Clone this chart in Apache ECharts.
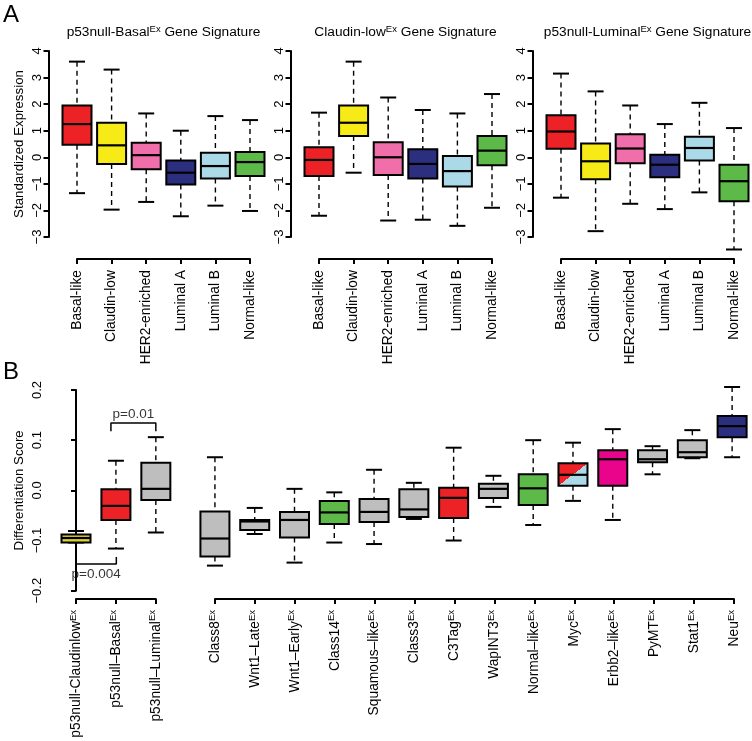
<!DOCTYPE html>
<html><head><meta charset="utf-8">
<script src="https://cdn.jsdelivr.net/npm/echarts@6/dist/echarts.min.js"></script>
<style>html,body{margin:0;padding:0;background:#fff}#c{width:752px;height:741px}</style>
</head><body><div id="c"></div>
<script>
// ---------- DATA ----------
const subtypes = ['Basal-like', 'Claudin-low', 'HER2-enriched', 'Luminal A', 'Luminal B', 'Normal-like'];
const subtypeColorKeys = ['red', 'yellow', 'pink', 'navy', 'lightblue', 'green'];
const signatureTitles = ['p53null-Basal', 'Claudin-low', 'p53null-Luminal'];
const yTicksA = [-3, -2, -1, 0, 1, 2, 3, 4];
// each box: [lower whisker, Q1, median, Q3, upper whisker]
const basalSignature = [
  [-1.35, 0.47, 1.25, 1.95, 3.60],
  [-1.97, -0.25, 0.45, 1.30, 3.30],
  [-1.68, -0.45, 0.08, 0.55, 1.65],
  [-2.22, -1.02, -0.58, -0.12, 1.00],
  [-1.82, -0.80, -0.33, 0.17, 1.55],
  [-2.02, -0.70, -0.18, 0.20, 1.40]
];
const claudinSignature = [
  [-2.20, -0.70, -0.10, 0.38, 1.68],
  [-0.58, 0.80, 1.30, 1.95, 3.60],
  [-2.38, -0.67, 0.00, 0.57, 2.25],
  [-2.35, -0.80, -0.25, 0.30, 1.78],
  [-2.58, -1.10, -0.52, 0.05, 1.65],
  [-1.90, -0.30, 0.25, 0.80, 2.38]
];
const luminalSignature = [
  [-1.52, 0.32, 0.97, 1.58, 3.15],
  [-2.78, -0.83, -0.15, 0.52, 2.48],
  [-1.75, -0.22, 0.33, 0.87, 1.95],
  [-1.95, -0.75, -0.28, 0.10, 1.25],
  [-1.32, -0.12, 0.35, 0.77, 2.05],
  [-3.47, -1.65, -0.90, -0.28, 1.10]
];
const p53Models = ['p53null-Claudinlow', 'p53null\u2013Basal', 'p53null\u2013Luminal'];
const p53ColorKeys = ['olive', 'red', 'gray'];
const p53Scores = [
  [-0.104, -0.104, -0.095, -0.088, -0.081],
  [-0.116, -0.059, -0.031, 0.002, 0.059],
  [-0.084, -0.019, 0.003, 0.055, 0.106]
];
const otherModels = ['Class8', 'Wnt1\u2013Late', 'Wnt1\u2013Early', 'Class14', 'Squamous\u2013like', 'Class3', 'C3Tag',
  'WapINT3', 'Normal\u2013like', 'Myc', 'Erbb2\u2013like', 'PyMT', 'Stat1', 'Neu'];
const otherColorKeys = ['gray', 'gray', 'gray', 'green', 'gray', 'gray', 'red', 'gray', 'green', 'myc', 'magenta', 'gray', 'gray', 'navy'];
const otherScores = [
  [-0.150, -0.132, -0.096, -0.042, 0.066],
  [-0.087, -0.079, -0.062, -0.059, -0.035],
  [-0.144, -0.094, -0.059, -0.043, 0.003],
  [-0.104, -0.067, -0.044, -0.021, -0.004],
  [-0.107, -0.063, -0.043, -0.017, 0.041],
  [-0.057, -0.053, -0.038, 0.002, 0.015],
  [-0.100, -0.055, -0.015, 0.005, 0.085],
  [-0.033, -0.015, 0.003, 0.013, 0.029],
  [-0.069, -0.029, 0.004, 0.032, 0.100],
  [-0.021, 0.009, 0.031, 0.054, 0.095],
  [-0.059, 0.009, 0.062, 0.080, 0.122],
  [0.032, 0.056, 0.062, 0.080, 0.088],
  [0.064, 0.066, 0.076, 0.100, 0.120],
  [0.066, 0.106, 0.128, 0.148, 0.206]
];
const yTicksB = [-0.2, -0.1, 0.0, 0.1, 0.2];
// brackets: [x from, x to, bar y, tail y], label
const bracketUpper = [0.875, 2, 0.134, 0.118];
const bracketLower = [0, 1.01, -0.147, -0.133];
const bracketUpperText = 'p=0.01';
const bracketLowerText = 'p=0.004';

// ---------- STYLE ----------
const FONT = 'Liberation Sans, Arial, sans-serif';
const palette = {
  red: '#ec2227', yellow: '#f6eb16', pink: '#f06fab', navy: '#2c2f7f', lightblue: '#abd9e7',
  green: '#5db948', gray: '#bebebe', olive: '#ddd035', magenta: '#e9048b'
};
const BOX_W = 29, CAP_W = 16;

function makeRenderer(colorKeys) {
  return function (params, api) {
    const x = api.value(0);
    const lo = api.coord([x, api.value(1)]);
    const q1 = api.coord([x, api.value(2)]);
    const md = api.coord([x, api.value(3)]);
    const q3 = api.coord([x, api.value(4)]);
    const hi = api.coord([x, api.value(5)]);
    const cx = lo[0];
    const hw = BOX_W / 2, cw = CAP_W / 2;
    const key = colorKeys[params.dataIndex];
    const h = q1[1] - q3[1];
    let fill;
    if (key === 'myc') {
      const a = h / BOX_W, b = BOX_W / Math.max(h, 1);
      const k = 0.5 / Math.sqrt(a * a + b * b) * 1.4;
      fill = new echarts.graphic.LinearGradient(0.5 - a * k, 0.5 - b * k, 0.5 + a * k, 0.5 + b * k, [
        { offset: 0, color: palette.red }, { offset: 0.5, color: palette.red },
        { offset: 0.5, color: palette.lightblue }, { offset: 1, color: palette.lightblue }]);
    } else {
      fill = palette[key];
    }
    const dash = { stroke: '#000', lineWidth: 1.4, lineDash: [5, 4] };
    const solid = { stroke: '#000', lineWidth: 2 };
    const children = [];
    if (hi[1] < q3[1] - 0.5) children.push({ type: 'line', shape: { x1: cx, y1: hi[1], x2: cx, y2: q3[1] }, style: dash });
    if (lo[1] > q1[1] + 0.5) children.push({ type: 'line', shape: { x1: cx, y1: q1[1], x2: cx, y2: lo[1] }, style: dash });
    children.push({ type: 'line', shape: { x1: cx - cw, y1: hi[1], x2: cx + cw, y2: hi[1] }, style: solid });
    children.push({ type: 'line', shape: { x1: cx - cw, y1: lo[1], x2: cx + cw, y2: lo[1] }, style: solid });
    children.push({ type: 'rect', shape: { x: cx - hw, y: q3[1], width: BOX_W, height: h }, style: { fill: fill, stroke: '#000', lineWidth: 2 } });
    children.push({ type: 'line', shape: { x1: cx - hw, y1: md[1], x2: cx + hw, y2: md[1] }, style: { stroke: '#000', lineWidth: 2.2 } });
    return { type: 'group', children: children };
  };
}

const LABEL_FS = 13.8;
const rich = {
  n: { fontSize: LABEL_FS, fontFamily: FONT, color: '#000', lineHeight: 16 },
  s: { fontSize: 9.5, fontFamily: FONT, color: '#000', lineHeight: 16, verticalAlign: 'top' }
};
const richTitle = {
  n: { fontSize: 13.7, fontFamily: FONT, color: '#000', lineHeight: 16 },
  s: { fontSize: 9.5, fontFamily: FONT, color: '#000', lineHeight: 16, verticalAlign: 'top' }
};

const grids = [], xAxes = [], yAxes = [], series = [], graphics = [];
function axisLineStyle() { return { show: true, lineStyle: { color: '#000', width: 2 } }; }
function catAxisFor(gi, data, fmt) {
  const lab = { rotate: 90, interval: 0, margin: 11, fontSize: LABEL_FS, fontFamily: FONT, color: '#000' };
  if (fmt) { lab.formatter = fmt; lab.rich = rich; }
  return {
    gridIndex: gi, type: 'category', data: data, boundaryGap: false, position: 'bottom',
    axisLine: axisLineStyle(), axisTick: { show: true, length: 5, inside: false, lineStyle: { color: '#000', width: 2 } },
    axisLabel: lab
  };
}
function valueLabel(fmt) {
  return { rotate: 90, margin: 5, fontSize: 13, fontFamily: FONT, color: '#000', formatter: fmt };
}

// ---------- PANEL A ----------
const spA = 34.6, topA = 51, hA = 186, lineA = 259;
const axisXA = [48.5, 290.5, 532.5], firstA = [77, 319, 561];
const sigData = [basalSignature, claudinSignature, luminalSignature];
for (let s = 0; s < 3; s++) {
  const gLeft = firstA[s] - spA / 2;
  const gi = grids.length;
  grids.push({ left: gLeft, top: topA, width: spA * 6, height: hA });
  xAxes.push({ gridIndex: gi, type: 'category', data: subtypes, show: false });
  yAxes.push({
    gridIndex: gi, type: 'value', min: yTicksA[0], max: yTicksA[yTicksA.length - 1], interval: 1,
    offset: gLeft - axisXA[s],
    name: s === 0 ? 'Standardized Expression' : '', nameLocation: 'middle', nameGap: 23,
    nameTextStyle: { fontSize: 13.3, fontFamily: FONT, color: '#000' },
    axisLine: axisLineStyle(), axisTick: { show: true, length: 5, lineStyle: { color: '#000', width: 2 } },
    axisLabel: valueLabel(v => String(v).replace('-', '\u2212')),
    splitLine: { show: false }
  });
  series.push({
    type: 'custom', xAxisIndex: xAxes.length - 1, yAxisIndex: yAxes.length - 1,
    renderItem: makeRenderer(subtypeColorKeys),
    data: sigData[s].map((v, i) => [i].concat(v)), silent: true
  });
  const ai = grids.length;
  grids.push({ left: firstA[s], top: lineA, width: spA * 5, height: 0 });
  xAxes.push(catAxisFor(ai, subtypes, null));
  yAxes.push({ gridIndex: ai, type: 'value', show: false });
  graphics.push({
    type: 'text', x: firstA[s] + spA * 2.5, y: 32,
    style: {
      text: '{n|' + signatureTitles[s] + '}{s|Ex}{n| Gene Signature}', rich: richTitle,
      textAlign: 'center', textVerticalAlign: 'middle'
    }
  });
}

// ---------- PANEL B ----------
const spB = 39.92, topB = 390, hB = 200.7, lineB = 599, axisXB = 49;
const firstBL = 76, firstBR = 215;
const supFmt = v => '{n|' + v + '}{s|Ex}';
{
  const gLeft = firstBL - spB / 2;
  const gi = grids.length;
  grids.push({ left: gLeft, top: topB, width: spB * 3, height: hB });
  xAxes.push({ gridIndex: gi, type: 'category', data: p53Models, show: false });
  const xValIdx = xAxes.length;
  xAxes.push({ gridIndex: gi, type: 'value', min: -0.5, max: 2.5, show: false });
  yAxes.push({
    gridIndex: gi, type: 'value', min: yTicksB[0], max: yTicksB[yTicksB.length - 1], interval: 0.1,
    offset: gLeft - axisXB,
    name: 'Differentiation Score', nameLocation: 'middle', nameGap: 23,
    nameTextStyle: { fontSize: 13.3, fontFamily: FONT, color: '#000' },
    axisLine: axisLineStyle(), axisTick: { show: true, length: 5, lineStyle: { color: '#000', width: 2 } },
    axisLabel: valueLabel(v => v.toFixed(1).replace('-', '\u2212')),
    splitLine: { show: false }
  });
  const yIdx = yAxes.length - 1;
  series.push({
    type: 'custom', xAxisIndex: xValIdx - 1, yAxisIndex: yIdx,
    renderItem: makeRenderer(p53ColorKeys),
    data: p53Scores.map((v, i) => [i].concat(v)), silent: true
  });
  [bracketUpper, bracketLower].forEach(b => {
    series.push({
      type: 'line', xAxisIndex: xValIdx, yAxisIndex: yIdx, silent: true, showSymbol: false, animation: false,
      lineStyle: { color: '#000', width: 1.5 },
      data: [[b[0], b[3]], [b[0], b[2]], [b[1], b[2]], [b[1], b[3]]]
    });
  });
  series.push({
    type: 'scatter', xAxisIndex: xValIdx, yAxisIndex: yIdx, silent: true, symbolSize: 0,
    data: [[(bracketUpper[0] + bracketUpper[1]) / 2, bracketUpper[2]]],
    label: { show: true, position: 'top', distance: 2, formatter: bracketUpperText, fontSize: 13.5, fontFamily: FONT, color: '#000' }
  });
  series.push({
    type: 'scatter', xAxisIndex: xValIdx, yAxisIndex: yIdx, silent: true, symbolSize: 0,
    data: [[(bracketLower[0] + bracketLower[1]) / 2, bracketLower[2]]],
    label: { show: true, position: 'bottom', distance: 3, formatter: bracketLowerText, fontSize: 13.5, fontFamily: FONT, color: '#000' }
  });
  const ai = grids.length;
  grids.push({ left: firstBL, top: lineB, width: spB * 2, height: 0 });
  xAxes.push(catAxisFor(ai, p53Models, supFmt));
  yAxes.push({ gridIndex: ai, type: 'value', show: false });
}
{
  const gLeft = firstBR - spB / 2;
  const gi = grids.length;
  grids.push({ left: gLeft, top: topB, width: spB * 14, height: hB });
  xAxes.push({ gridIndex: gi, type: 'category', data: otherModels, show: false });
  yAxes.push({ gridIndex: gi, type: 'value', min: yTicksB[0], max: yTicksB[yTicksB.length - 1], interval: 0.1, show: false });
  series.push({
    type: 'custom', xAxisIndex: xAxes.length - 1, yAxisIndex: yAxes.length - 1,
    renderItem: makeRenderer(otherColorKeys),
    data: otherScores.map((v, i) => [i].concat(v)), silent: true
  });
  const ai = grids.length;
  grids.push({ left: firstBR, top: lineB, width: spB * 13, height: 0 });
  xAxes.push(catAxisFor(ai, otherModels, supFmt));
  yAxes.push({ gridIndex: ai, type: 'value', show: false });
}

graphics.push({ type: 'text', x: 3, y: 3, style: { text: 'A', fontSize: 24, fontFamily: FONT, fill: '#000' } });
graphics.push({ type: 'text', x: 3, y: 360, style: { text: 'B', fontSize: 24, fontFamily: FONT, fill: '#000' } });

const chart = echarts.init(document.getElementById('c'), null, { renderer: 'canvas' });
chart.setOption({
  animation: false,
  backgroundColor: '#fff',
  textStyle: { fontFamily: FONT },
  grid: grids, xAxis: xAxes, yAxis: yAxes, series: series, graphic: graphics
});
</script></body></html>
